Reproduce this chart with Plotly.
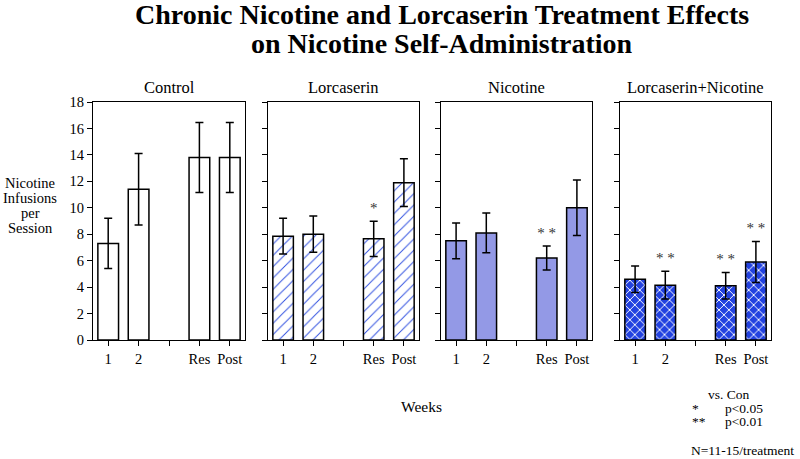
import plotly.graph_objects as go

# data
groups = ["Control", "Lorcaserin", "Nicotine", "Lorcaserin+Nicotine"]
week_pos = [0, 1, 3, 4]          # slot 2 is the empty gap between "2" and "Res"
week_labels = ["1", "2", "", "Res", "Post"]

control_mean = [7.3, 11.4, 13.8, 13.8]
control_sem = [1.9, 2.7, 2.65, 2.65]
lorc_mean = [7.85, 8.0, 7.65, 11.9]
lorc_sem = [1.35, 1.37, 1.33, 1.8]
nic_mean = [7.5, 8.1, 6.2, 10.0]
nic_sem = [1.35, 1.5, 0.9, 2.1]
lorcnic_mean = [4.6, 4.15, 4.1, 5.9]
lorcnic_sem = [1.0, 1.05, 1.0, 1.55]

control_sig = ["", "", "", ""]
lorc_sig = ["", "", "*", ""]
nic_sig = ["", "", "* *", ""]
lorcnic_sig = ["", "* *", "* *", "* *"]

W, H = 800, 459
FONT = "Liberation Serif"


def px_x(x):
    return x / W


def px_y(y):
    return 1 - y / H


panel_px = [(93, 245), (268, 419), (441, 592), (620, 771)]
y_dom = [px_y(340), px_y(102)]

styles = [
    dict(color="white"),
    dict(color="white", pattern=dict(shape="/", fgcolor="#2f4fe0", bgcolor="white",
                                     size=8, solidity=0.12, fillmode="replace")),
    dict(color="#9399e6"),
    dict(color="#2342e0", pattern=dict(shape="x", fgcolor="white", bgcolor="#2342e0",
                                       size=7, solidity=0.25, fillmode="replace")),
]

means = [control_mean, lorc_mean, nic_mean, lorcnic_mean]
sems = [control_sem, lorc_sem, nic_sem, lorcnic_sem]
sigs = [control_sig, lorc_sig, nic_sig, lorcnic_sig]

fig = go.Figure()
for i, g in enumerate(groups):
    n = "" if i == 0 else str(i + 1)
    fig.add_trace(go.Bar(
        x=week_pos, y=means[i], width=0.68,
        marker=dict(line=dict(color="black", width=1.5), **styles[i]),
        error_y=dict(type="data", array=sems[i], color="black", thickness=1.5, width=4),
        xaxis="x" + n, yaxis="y" + n, showlegend=False,
    ))
    star_y = [m + s + 0.9 for m, s in zip(means[i], sems[i])]
    fig.add_trace(go.Scatter(
        x=week_pos, y=star_y, text=sigs[i], mode="text",
        textfont=dict(family=FONT, size=15, color="#333"),
        xaxis="x" + n, yaxis="y" + n, showlegend=False, hoverinfo="skip",
    ))

    x0, x1 = panel_px[i]
    xa = dict(domain=[px_x(x0), px_x(x1)], range=[-0.5, 4.5],
              tickvals=[0, 1, 2, 3, 4], ticktext=week_labels,
              ticks="outside", ticklen=5, tickwidth=1.3, tickcolor="black",
              showline=True, linecolor="black", linewidth=1.3, mirror=True,
              showgrid=False, zeroline=False, anchor="y" + n, automargin=False,
              tickfont=dict(family=FONT, size=14.5, color="black"))
    ya = dict(domain=y_dom, range=[0, 18], dtick=2,
              ticks="outside", ticklen=5, tickwidth=1.3, tickcolor="black",
              showline=True, linecolor="black", linewidth=1.3, mirror=True,
              showgrid=False, zeroline=False, anchor="x" + n, automargin=False,
              showticklabels=(i == 0),
              tickfont=dict(family=FONT, size=14.5, color="black"))
    fig.layout["xaxis" + n] = xa
    fig.layout["yaxis" + n] = ya

    fig.add_annotation(text=g, x=px_x((x0 + x1) / 2), y=px_y(87), xref="paper", yref="paper",
                       xanchor="center", yanchor="middle",
                       showarrow=False, font=dict(family=FONT, size=16.5, color="black"))


def label(text, x, y, size=13.5, xanchor="center"):
    fig.add_annotation(text=text, x=px_x(x), y=px_y(y), xref="paper", yref="paper",
                       xanchor=xanchor, yanchor="middle", showarrow=False,
                       font=dict(family=FONT, size=size, color="black"))


label("<b>Chronic Nicotine and Lorcaserin Treatment Effects</b>", 442, 15, size=28)
label("<b>on Nicotine Self-Administration</b>", 442, 43, size=28)

for k, line in enumerate(["Nicotine", "Infusions", "per", "Session"]):
    label(line, 30, 183 + 15 * k, size=14.5)

label("Weeks", 421, 406, size=15.5)

label("vs. Con", 706, 394, xanchor="left")
label("*", 690, 408, xanchor="left")
label("p<0.05", 723, 408, xanchor="left")
label("**", 690, 421, xanchor="left")
label("p<0.01", 723, 421, xanchor="left")
label("N=11-15/treatment", 689, 450, xanchor="left")

fig.update_layout(width=W, height=H, margin=dict(l=0, r=0, t=0, b=0),
                  plot_bgcolor="white", paper_bgcolor="white", barmode="overlay")

# drop the default body margin so the figure fills the window
fig.write_html("out.html", config={"displayModeBar": False},
               post_script="document.body.style.margin='0';")
